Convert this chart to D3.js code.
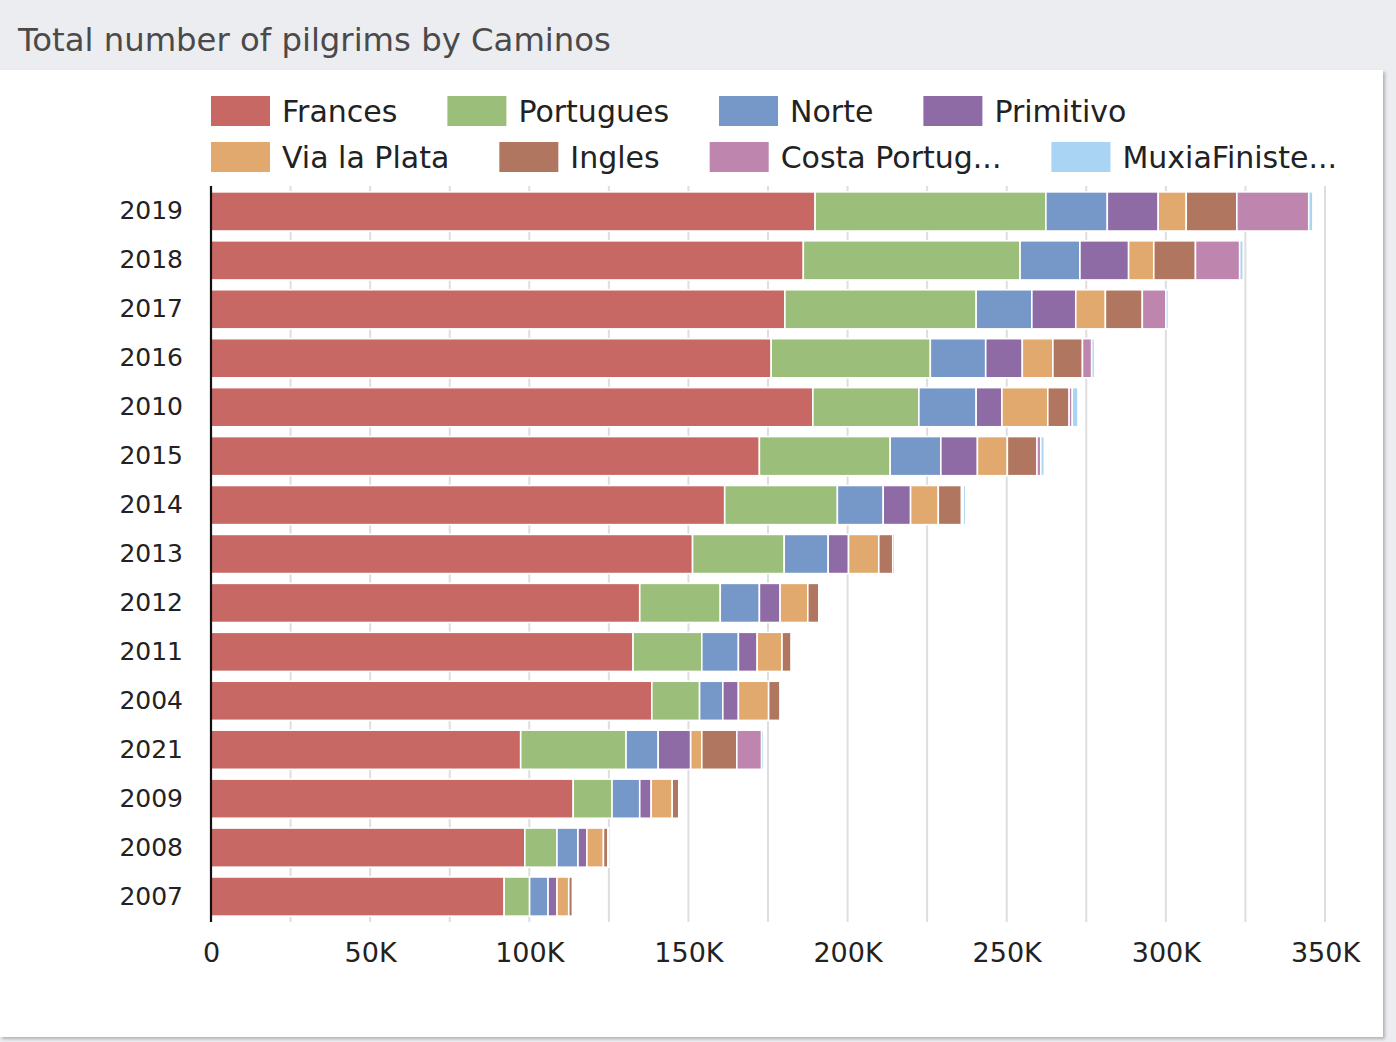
<!DOCTYPE html>
<html><head><meta charset="utf-8">
<script src="https://cdn.jsdelivr.net/npm/d3@7"></script>
<style>
html,body{margin:0;padding:0;background:#ecedf0;width:1396px;height:1042px;overflow:hidden;}
#card{position:absolute;left:0;top:70px;width:1383px;height:967px;background:#fff;box-shadow:2px 2px 3px rgba(0,0,0,0.25);}
svg{position:absolute;left:0;top:0;}
</style></head>
<body>
<div id="card"></div>
<svg id="chart" width="1396" height="1042"></svg>
<script>
const years = ["2019","2018","2017","2016","2010","2015","2014","2013","2012","2011","2004","2021","2009","2008","2007"];
const seriesNames = ["Frances","Portugues","Norte","Primitivo","Via la Plata","Ingles","Costa Portug...","MuxiaFiniste..."];
const seriesColors = ["#c86864","#9bbe7a","#7698c8","#8e6ba5","#e1a96d","#b0765f","#be86ae","#a9d4f3"];
const frances    = [189800,186100,180300,176000,189100,172300,161400,151300,134700,132600,138500,97300,113800,98600,92100];
const portugues  = [72500,68100,60100,50000,33300,41100,35400,28800,25300,21600,15000,33100,12200,10100,8000];
const norte      = [19300,18800,17500,17400,18000,15900,14400,13800,12300,11500,7300,10100,8700,6600,5800];
const primitivo  = [16000,15300,13800,11500,8100,11500,8600,6400,6500,5900,4900,10200,3600,2800,2800];
const viaLaPlata = [8800,7900,9300,9600,14400,9400,8700,9500,8700,7800,9500,3500,6600,5200,3700];
const ingles     = [15900,13100,11600,9300,6700,9300,7300,4400,3500,2900,3600,11000,2100,1400,1200];
const costaPort  = [22600,13900,7400,2900,1000,1200,500,600,400,400,500,7800,100,300,400];
const muxiaFin   = [1300,1100,800,900,1800,1100,800,500,500,500,400,700,200,600,400];
const xTicks = [0,50000,100000,150000,200000,250000,300000,350000];
const xTickLabels = ["0","50K","100K","150K","200K","250K","300K","350K"];
const gridTicks = [25000,50000,75000,100000,125000,150000,175000,200000,225000,250000,275000,300000,325000,350000];

const allSeries = [frances,portugues,norte,primitivo,viaLaPlata,ingles,costaPort,muxiaFin];
const table = years.map((y,i)=>{const o={year:y}; seriesNames.forEach((s,k)=>o[s]=allSeries[k][i]); return o;});
const stacked = d3.stack().keys(seriesNames)(table);

const FONT = "'DejaVu Sans', sans-serif";
const svg = d3.select("#chart");
const x = d3.scaleLinear().domain([0,350000]).range([211,1325]);
const y = d3.scaleBand().domain(years).range([186,922]).paddingInner(0.2).paddingOuter(0.12);
const color = d3.scaleOrdinal().domain(seriesNames).range(seriesColors);

// title
svg.append("text").attr("x",18).attr("y",51).attr("font-family",FONT).attr("font-size",32.3)
  .attr("fill","#4a4a4a").text("Total number of pilgrims by Caminos");

// grid
svg.append("g").selectAll("line").data(gridTicks).join("line")
  .attr("x1",d=>x(d)).attr("x2",d=>x(d)).attr("y1",186).attr("y2",922)
  .attr("stroke","#dedede").attr("stroke-width",2);

// bars
svg.append("g").selectAll("g").data(stacked).join("g").attr("fill",d=>color(d.key))
  .selectAll("rect").data(d=>d).join("rect")
  .attr("x",d=>x(d[0])).attr("width",d=>Math.max(0,x(d[1])-x(d[0])))
  .attr("y",d=>y(d.data.year)).attr("height",y.bandwidth())
  .attr("stroke","#fff").attr("stroke-width",1.6);

// y axis
const yAxis = svg.append("g").attr("transform","translate(211,0)")
  .call(d3.axisLeft(y).tickSize(0).tickPadding(28));
yAxis.select(".domain").attr("stroke","#111").attr("stroke-width",2.2).attr("d","M0,186V922");
yAxis.selectAll("text").attr("font-family",FONT).attr("font-size",25).attr("fill","#222");

// x axis labels
const xAxis = svg.append("g").attr("transform","translate(0,922)")
  .call(d3.axisBottom(x).tickValues(xTicks).tickFormat((d,i)=>xTickLabels[i]).tickSize(0).tickPadding(21));
xAxis.select(".domain").remove();
xAxis.selectAll("text").attr("font-family",FONT).attr("font-size",27).attr("fill","#222");

// legend (flow layout, 4 per row)
const legend = svg.append("g");
const rows = [seriesNames.slice(0,4), seriesNames.slice(4)];
rows.forEach((row,ri)=>{
  let cx = 211;
  const cy = 111 + ri*46;
  row.forEach(name=>{
    legend.append("rect").attr("x",cx).attr("y",cy-15).attr("width",59).attr("height",30)
      .attr("fill",color(name));
    const t = legend.append("text").attr("x",cx+71).attr("y",cy).attr("dy","0.36em")
      .attr("font-family",FONT).attr("font-size",30).attr("fill","#222").text(name);
    cx += 71 + t.node().getComputedTextLength() + 50;
  });
});
</script>
</body></html>
